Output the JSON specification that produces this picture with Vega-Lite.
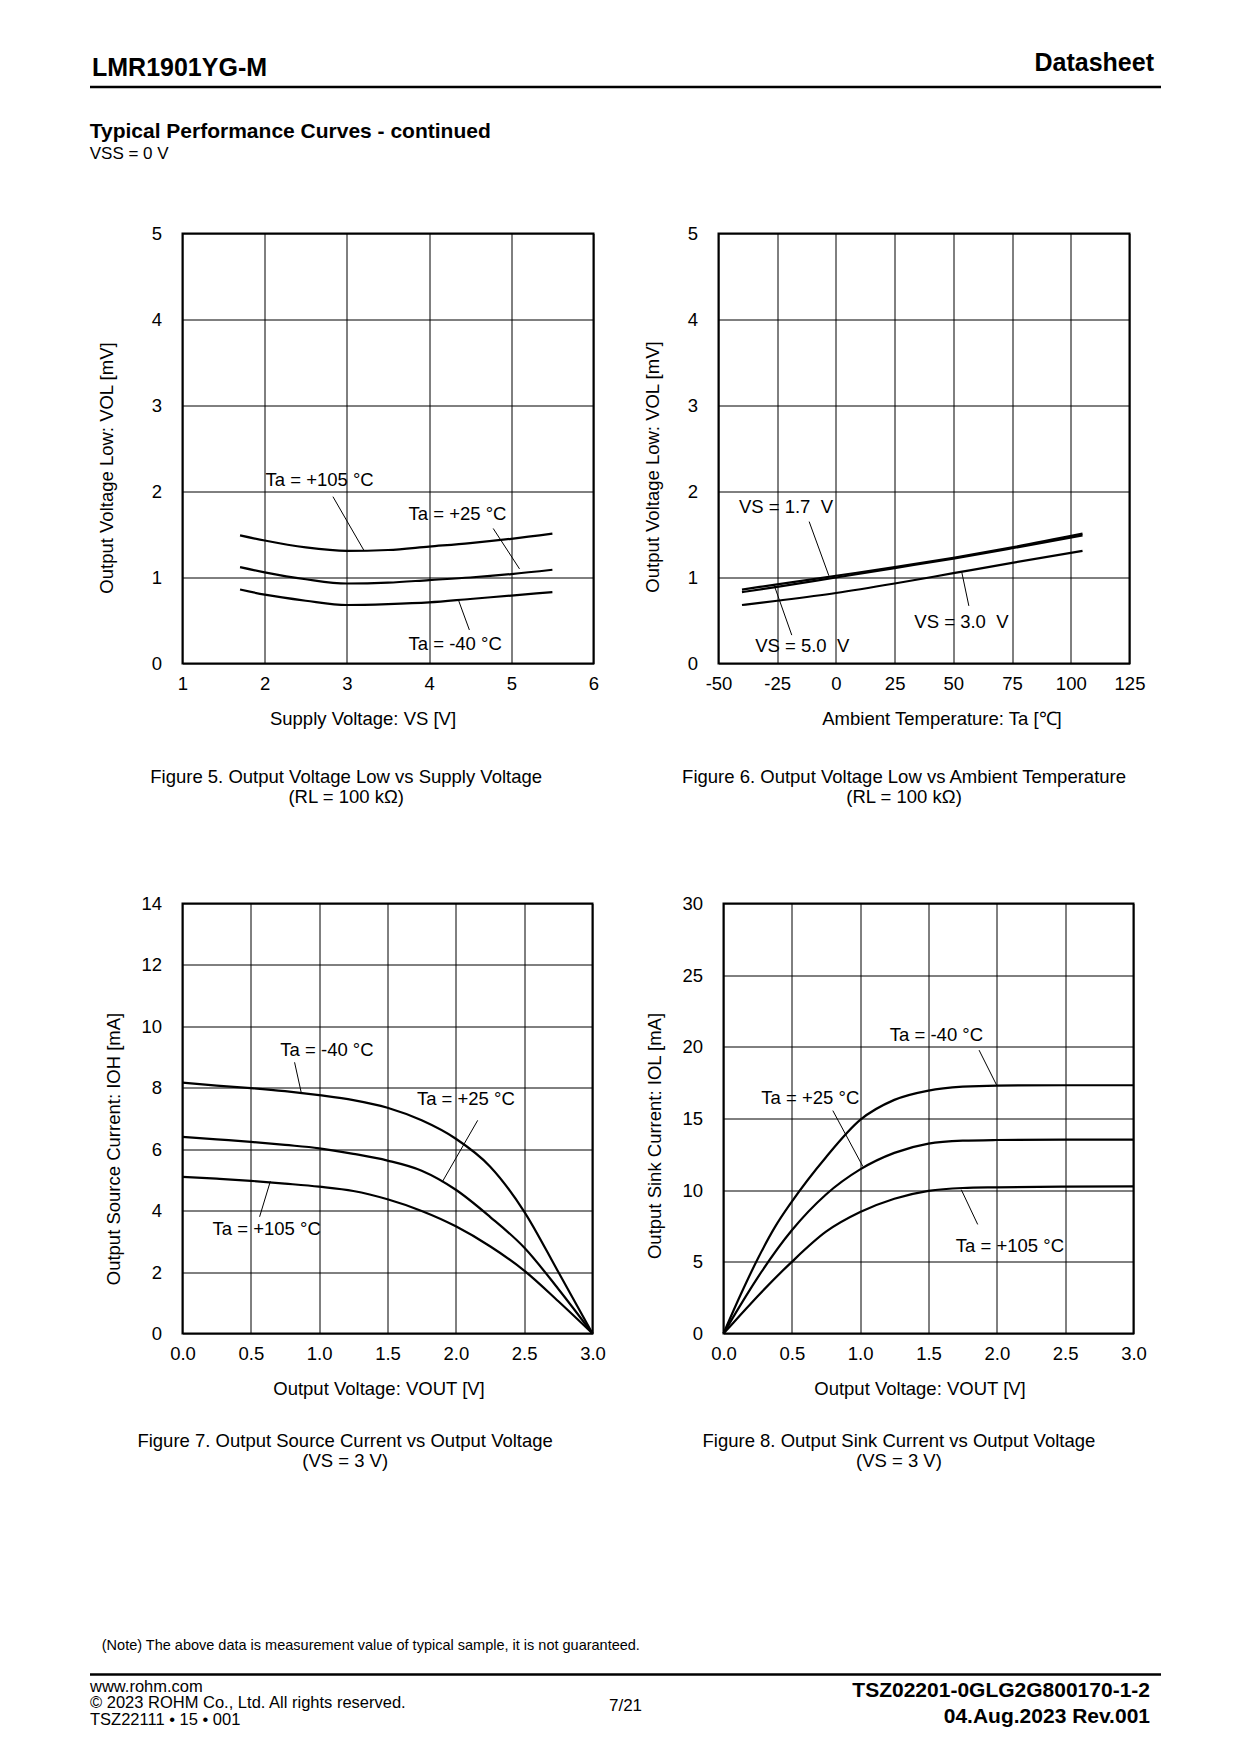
{
  "$schema": "https://vega.github.io/schema/vega-lite/v6.json",
  "background": "white",
  "padding": {"left": 86.5, "top": 50.5, "right": 0, "bottom": 0},
  "config": {
    "font": "Liberation Sans",
    "view": {"stroke": null},
    "axis": {"labelFont": "Liberation Sans", "labelFontSize": 18.5, "labelColor": "black", "titleFont": "Liberation Sans", "titleFontSize": 18.5, "titleFontWeight": "normal", "titleColor": "black", "gridColor": "black", "gridWidth": 1, "gridOpacity": 1, "ticks": false, "domain": false, "labelFlush": false, "labelOverlap": false, "labelBound": false, "labelLimit": 0},
    "axisX": {"labelPadding": 11, "titlePadding": 16},
    "axisY": {"labelPadding": 21},
    "title": {"font": "Liberation Sans", "color": "black", "subtitleFont": "Liberation Sans", "subtitleColor": "black", "fontWeight": "normal"}
  },
  "datasets": {
    "f5c": [
      {"s": "105", "x": 1.7, "y": 1.49}, {"s": "105", "x": 2.0, "y": 1.43}, {"s": "105", "x": 2.5, "y": 1.35}, {"s": "105", "x": 3.0, "y": 1.31}, {"s": "105", "x": 3.5, "y": 1.32}, {"s": "105", "x": 4.0, "y": 1.36}, {"s": "105", "x": 4.5, "y": 1.40}, {"s": "105", "x": 5.0, "y": 1.45}, {"s": "105", "x": 5.5, "y": 1.51},
      {"s": "25", "x": 1.7, "y": 1.12}, {"s": "25", "x": 2.0, "y": 1.06}, {"s": "25", "x": 2.5, "y": 0.98}, {"s": "25", "x": 3.0, "y": 0.93}, {"s": "25", "x": 3.5, "y": 0.94}, {"s": "25", "x": 4.0, "y": 0.97}, {"s": "25", "x": 4.5, "y": 1.00}, {"s": "25", "x": 5.0, "y": 1.04}, {"s": "25", "x": 5.5, "y": 1.09},
      {"s": "-40", "x": 1.7, "y": 0.86}, {"s": "-40", "x": 2.0, "y": 0.80}, {"s": "-40", "x": 2.5, "y": 0.73}, {"s": "-40", "x": 3.0, "y": 0.68}, {"s": "-40", "x": 3.5, "y": 0.69}, {"s": "-40", "x": 4.0, "y": 0.71}, {"s": "-40", "x": 4.5, "y": 0.75}, {"s": "-40", "x": 5.0, "y": 0.79}, {"s": "-40", "x": 5.5, "y": 0.83}
    ],
    "f5l": [
      {"x": 2.83, "y": 1.94, "x2": 3.21, "y2": 1.31},
      {"x": 4.78, "y": 1.57, "x2": 5.10, "y2": 1.10},
      {"x": 4.49, "y": 0.39, "x2": 4.36, "y2": 0.73}
    ],
    "f5t": [
      {"t": "Ta = +105 °C", "x": 2.01, "y": 2.13},
      {"t": "Ta = +25 °C", "x": 3.75, "y": 1.74},
      {"t": "Ta = -40 °C", "x": 3.75, "y": 0.225}
    ],
    "f6c": [
      {"s": "1.7", "x": -40, "y": 0.86}, {"s": "1.7", "x": -25, "y": 0.92}, {"s": "1.7", "x": 0, "y": 1.02}, {"s": "1.7", "x": 25, "y": 1.12}, {"s": "1.7", "x": 50, "y": 1.23}, {"s": "1.7", "x": 75, "y": 1.35}, {"s": "1.7", "x": 105, "y": 1.51},
      {"s": "5.0", "x": -40, "y": 0.83}, {"s": "5.0", "x": -25, "y": 0.89}, {"s": "5.0", "x": 0, "y": 1.00}, {"s": "5.0", "x": 25, "y": 1.11}, {"s": "5.0", "x": 50, "y": 1.22}, {"s": "5.0", "x": 75, "y": 1.34}, {"s": "5.0", "x": 105, "y": 1.49},
      {"s": "3.0", "x": -40, "y": 0.68}, {"s": "3.0", "x": -25, "y": 0.73}, {"s": "3.0", "x": 0, "y": 0.82}, {"s": "3.0", "x": 25, "y": 0.93}, {"s": "3.0", "x": 50, "y": 1.05}, {"s": "3.0", "x": 75, "y": 1.17}, {"s": "3.0", "x": 105, "y": 1.31}
    ],
    "f6l": [
      {"x": -11.4, "y": 1.65, "x2": -3.0, "y2": 1.02},
      {"x": -18.8, "y": 0.33, "x2": -26.3, "y2": 0.91},
      {"x": 56.6, "y": 0.67, "x2": 53.6, "y2": 1.06}
    ],
    "f6t": [
      {"t": "VS = 1.7\u00a0\u00a0V", "x": -41.3, "y": 1.82},
      {"t": "VS = 5.0\u00a0\u00a0V", "x": -34.4, "y": 0.2},
      {"t": "VS = 3.0\u00a0\u00a0V", "x": 33.4, "y": 0.48}
    ],
    "f7c": [
      {"s": "-40", "x": 0, "y": 8.17}, {"s": "-40", "x": 0.25, "y": 8.07}, {"s": "-40", "x": 0.5, "y": 7.99}, {"s": "-40", "x": 0.75, "y": 7.89}, {"s": "-40", "x": 1.0, "y": 7.76}, {"s": "-40", "x": 1.25, "y": 7.6}, {"s": "-40", "x": 1.5, "y": 7.35}, {"s": "-40", "x": 1.75, "y": 6.94}, {"s": "-40", "x": 2.0, "y": 6.34}, {"s": "-40", "x": 2.25, "y": 5.44}, {"s": "-40", "x": 2.5, "y": 3.97}, {"s": "-40", "x": 2.75, "y": 2.0}, {"s": "-40", "x": 3.0, "y": 0},
      {"s": "25", "x": 0, "y": 6.4}, {"s": "25", "x": 0.25, "y": 6.32}, {"s": "25", "x": 0.5, "y": 6.24}, {"s": "25", "x": 0.75, "y": 6.14}, {"s": "25", "x": 1.0, "y": 6.03}, {"s": "25", "x": 1.25, "y": 5.85}, {"s": "25", "x": 1.5, "y": 5.63}, {"s": "25", "x": 1.75, "y": 5.3}, {"s": "25", "x": 2.0, "y": 4.68}, {"s": "25", "x": 2.25, "y": 3.8}, {"s": "25", "x": 2.5, "y": 2.8}, {"s": "25", "x": 2.75, "y": 1.45}, {"s": "25", "x": 3.0, "y": 0},
      {"s": "105", "x": 0, "y": 5.1}, {"s": "105", "x": 0.25, "y": 5.04}, {"s": "105", "x": 0.5, "y": 4.97}, {"s": "105", "x": 0.75, "y": 4.88}, {"s": "105", "x": 1.0, "y": 4.78}, {"s": "105", "x": 1.25, "y": 4.64}, {"s": "105", "x": 1.5, "y": 4.37}, {"s": "105", "x": 1.75, "y": 3.99}, {"s": "105", "x": 2.0, "y": 3.49}, {"s": "105", "x": 2.25, "y": 2.84}, {"s": "105", "x": 2.5, "y": 2.05}, {"s": "105", "x": 2.75, "y": 1.05}, {"s": "105", "x": 3.0, "y": 0}
    ],
    "f7l": [
      {"x": 0.82, "y": 8.83, "x2": 0.87, "y2": 7.82},
      {"x": 2.16, "y": 6.94, "x2": 1.9, "y2": 4.93},
      {"x": 0.564, "y": 3.8, "x2": 0.643, "y2": 4.96}
    ],
    "f7t": [
      {"t": "Ta = -40 °C", "x": 0.716, "y": 9.23},
      {"t": "Ta = +25 °C", "x": 1.715, "y": 7.63},
      {"t": "Ta = +105 °C", "x": 0.22, "y": 3.39}
    ],
    "f8c": [
      {"s": "-40", "x": 0, "y": 0}, {"s": "-40", "x": 0.125, "y": 2.7}, {"s": "-40", "x": 0.25, "y": 5.2}, {"s": "-40", "x": 0.375, "y": 7.4}, {"s": "-40", "x": 0.5, "y": 9.2}, {"s": "-40", "x": 0.75, "y": 12.3}, {"s": "-40", "x": 1.0, "y": 14.9}, {"s": "-40", "x": 1.25, "y": 16.3}, {"s": "-40", "x": 1.5, "y": 16.95}, {"s": "-40", "x": 1.75, "y": 17.22}, {"s": "-40", "x": 2.0, "y": 17.3}, {"s": "-40", "x": 2.5, "y": 17.32}, {"s": "-40", "x": 3.0, "y": 17.32},
      {"s": "25", "x": 0, "y": 0}, {"s": "25", "x": 0.125, "y": 2.0}, {"s": "25", "x": 0.25, "y": 3.9}, {"s": "25", "x": 0.5, "y": 7.2}, {"s": "25", "x": 0.75, "y": 9.7}, {"s": "25", "x": 1.0, "y": 11.45}, {"s": "25", "x": 1.25, "y": 12.6}, {"s": "25", "x": 1.5, "y": 13.25}, {"s": "25", "x": 1.75, "y": 13.45}, {"s": "25", "x": 2.0, "y": 13.5}, {"s": "25", "x": 2.5, "y": 13.53}, {"s": "25", "x": 3.0, "y": 13.53},
      {"s": "105", "x": 0, "y": 0}, {"s": "105", "x": 0.125, "y": 1.3}, {"s": "105", "x": 0.25, "y": 2.6}, {"s": "105", "x": 0.5, "y": 5.0}, {"s": "105", "x": 0.75, "y": 7.1}, {"s": "105", "x": 1.0, "y": 8.47}, {"s": "105", "x": 1.25, "y": 9.4}, {"s": "105", "x": 1.5, "y": 9.95}, {"s": "105", "x": 1.75, "y": 10.15}, {"s": "105", "x": 2.0, "y": 10.2}, {"s": "105", "x": 2.5, "y": 10.25}, {"s": "105", "x": 3.0, "y": 10.27}
    ],
    "f8l": [
      {"x": 1.87, "y": 19.77, "x2": 2.0, "y2": 17.3},
      {"x": 0.8, "y": 15.55, "x2": 1.02, "y2": 11.65},
      {"x": 1.86, "y": 7.61, "x2": 1.74, "y2": 10.03}
    ],
    "f8t": [
      {"t": "Ta = -40 °C", "x": 1.217, "y": 20.8},
      {"t": "Ta = +25 °C", "x": 0.277, "y": 16.41},
      {"t": "Ta = +105 °C", "x": 1.7, "y": 6.13}
    ]
  },
  "columns": 1,
  "spacing": 30,
  "concat": [
    {
      "width": 978,
      "height": 1,
      "data": {"values": [{"h": "LMR1901YG-M"}, {"h": "Datasheet"}]},
      "mark": {"type": "point", "opacity": 0},
      "encoding": {
        "x": {"field": "h", "type": "nominal", "scale": {"type": "point", "padding": 0, "domain": ["LMR1901YG-M", "Datasheet"], "range": [-93, 978]},
          "axis": {"orient": "top", "title": null, "grid": false, "ticks": false, "domain": true, "domainColor": "black", "domainWidth": 2.5, "labelAngle": 0, "labelFontSize": 25, "labelFontWeight": "bold", "labelColor": "black", "labelBaseline": "alphabetic",
            "labelPadding": {"expr": "datum.value == 'Datasheet' ? 16 : 11"},
            "labelAlign": {"expr": "datum.value == 'Datasheet' ? 'right' : 'left'"},
            "labelOffset": {"expr": "datum.value == 'Datasheet' ? -7 : 2"}}}
      }
    },
    {
      "columns": 1,
      "spacing": 165.5,
      "concat": [
        {
          "columns": 1,
          "spacing": 86,
          "title": {"text": "Typical Performance Curves - continued", "subtitle": "VSS = 0 V", "anchor": "start", "frame": "bounds", "orient": "top", "offset": 62, "dx": -7, "fontSize": 21, "fontWeight": "bold", "subtitleFontSize": 17, "subtitlePadding": 4},
          "concat": [
            {
              "spacing": 41,
              "hconcat": [
                {
                  "width": 411, "height": 430,
                  "view": {"stroke": "black", "strokeWidth": 2},
                  "title": {"text": "Figure 5. Output Voltage Low vs Supply Voltage", "subtitle": "(RL = 100 kΩ)", "orient": "bottom", "anchor": "middle", "frame": "bounds", "offset": 40, "dx": -2, "fontSize": 18.5, "subtitleFontSize": 18.5, "subtitlePadding": 2},
                  "encoding": {
                    "x": {"field": "x", "type": "quantitative", "scale": {"domain": [1, 6], "nice": false, "zero": false}, "axis": {"values": [1, 2, 3, 4, 5, 6], "title": "Supply Voltage: VS [V]", "titleX": 180}},
                    "y": {"field": "y", "type": "quantitative", "scale": {"domain": [0, 5], "nice": false}, "axis": {"values": [0, 1, 2, 3, 4, 5], "title": "Output Voltage Low: VOL [mV]", "titlePadding": 34.5, "titleY": 234}}
                  },
                  "layer": [
                    {"data": {"name": "f5c"}, "mark": {"type": "line", "color": "black", "strokeWidth": 2.2, "interpolate": "monotone"}, "encoding": {"detail": {"field": "s", "type": "nominal"}}},
                    {"data": {"name": "f5l"}, "mark": {"type": "rule", "color": "black", "strokeWidth": 1}, "encoding": {"x2": {"field": "x2"}, "y2": {"field": "y2"}}},
                    {"data": {"name": "f5t"}, "mark": {"type": "text", "align": "left", "baseline": "middle", "fontSize": 18.5, "color": "black"}, "encoding": {"text": {"field": "t", "type": "nominal"}}}
                  ]
                },
                {
                  "width": 411, "height": 430,
                  "view": {"stroke": "black", "strokeWidth": 2},
                  "title": {"text": "Figure 6. Output Voltage Low vs Ambient Temperature", "subtitle": "(RL = 100 kΩ)", "orient": "bottom", "anchor": "middle", "frame": "bounds", "offset": 40, "dx": 10, "fontSize": 18.5, "subtitleFontSize": 18.5, "subtitlePadding": 2},
                  "encoding": {
                    "x": {"field": "x", "type": "quantitative", "scale": {"domain": [-50, 125], "nice": false, "zero": false}, "axis": {"values": [-50, -25, 0, 25, 50, 75, 100, 125], "labelExpr": "datum.value + ''", "title": "Ambient Temperature: Ta [℃]", "titleX": 223}},
                    "y": {"field": "y", "type": "quantitative", "scale": {"domain": [0, 5], "nice": false}, "axis": {"values": [0, 1, 2, 3, 4, 5], "title": "Output Voltage Low: VOL [mV]", "titlePadding": 25, "titleY": 233}}
                  },
                  "layer": [
                    {"data": {"name": "f6c"}, "mark": {"type": "line", "color": "black", "strokeWidth": 2.2, "interpolate": "monotone"}, "encoding": {"detail": {"field": "s", "type": "nominal"}}},
                    {"data": {"name": "f6l"}, "mark": {"type": "rule", "color": "black", "strokeWidth": 1}, "encoding": {"x2": {"field": "x2"}, "y2": {"field": "y2"}}},
                    {"data": {"name": "f6t"}, "mark": {"type": "text", "align": "left", "baseline": "middle", "fontSize": 18.5, "color": "black"}, "encoding": {"text": {"field": "t", "type": "nominal"}}}
                  ]
                }
              ]
            },
            {
              "spacing": 37,
              "hconcat": [
                {
                  "width": 410, "height": 430,
                  "view": {"stroke": "black", "strokeWidth": 2},
                  "title": {"text": "Figure 7. Output Source Current vs Output Voltage", "subtitle": "(VS = 3 V)", "orient": "bottom", "anchor": "middle", "frame": "bounds", "offset": 34, "dx": -10, "fontSize": 18.5, "subtitleFontSize": 18.5, "subtitlePadding": 2},
                  "encoding": {
                    "x": {"field": "x", "type": "quantitative", "scale": {"domain": [0, 3], "nice": false}, "axis": {"values": [0, 0.5, 1, 1.5, 2, 2.5, 3], "format": ".1f", "title": "Output Voltage: VOUT [V]", "titleX": 196}},
                    "y": {"field": "y", "type": "quantitative", "scale": {"domain": [0, 14], "nice": false}, "axis": {"values": [0, 2, 4, 6, 8, 10, 12, 14], "title": "Output Source Current: IOH [mA]", "titlePadding": 17, "titleY": 245}}
                  },
                  "layer": [
                    {"data": {"name": "f7c"}, "mark": {"type": "line", "color": "black", "strokeWidth": 2.2, "interpolate": "monotone"}, "encoding": {"detail": {"field": "s", "type": "nominal"}}},
                    {"data": {"name": "f7l"}, "mark": {"type": "rule", "color": "black", "strokeWidth": 1}, "encoding": {"x2": {"field": "x2"}, "y2": {"field": "y2"}}},
                    {"data": {"name": "f7t"}, "mark": {"type": "text", "align": "left", "baseline": "middle", "fontSize": 18.5, "color": "black"}, "encoding": {"text": {"field": "t", "type": "nominal"}}}
                  ]
                },
                {
                  "width": 410, "height": 430,
                  "view": {"stroke": "black", "strokeWidth": 2},
                  "title": {"text": "Figure 8. Output Sink Current vs Output Voltage", "subtitle": "(VS = 3 V)", "orient": "bottom", "anchor": "middle", "frame": "bounds", "offset": 34, "dx": 3, "fontSize": 18.5, "subtitleFontSize": 18.5, "subtitlePadding": 2},
                  "encoding": {
                    "x": {"field": "x", "type": "quantitative", "scale": {"domain": [0, 3], "nice": false}, "axis": {"values": [0, 0.5, 1, 1.5, 2, 2.5, 3], "format": ".1f", "title": "Output Voltage: VOUT [V]", "titleX": 196}},
                    "y": {"field": "y", "type": "quantitative", "scale": {"domain": [0, 30], "nice": false}, "axis": {"values": [0, 5, 10, 15, 20, 25, 30], "title": "Output Sink Current: IOL [mA]", "titlePadding": 17.5, "titleY": 232}}
                  },
                  "layer": [
                    {"data": {"name": "f8c"}, "mark": {"type": "line", "color": "black", "strokeWidth": 2.2, "interpolate": "monotone"}, "encoding": {"detail": {"field": "s", "type": "nominal"}}},
                    {"data": {"name": "f8l"}, "mark": {"type": "rule", "color": "black", "strokeWidth": 1}, "encoding": {"x2": {"field": "x2"}, "y2": {"field": "y2"}}},
                    {"data": {"name": "f8t"}, "mark": {"type": "text", "align": "left", "baseline": "middle", "fontSize": 18.5, "color": "black"}, "encoding": {"text": {"field": "t", "type": "nominal"}}}
                  ]
                }
              ]
            }
          ]
        },
        {
          "width": 978,
          "height": 1,
          "title": {"text": "(Note) The above data is measurement value of typical sample, it is not guaranteed.", "anchor": "start", "frame": "bounds", "orient": "top", "offset": 17.5, "dx": 15, "fontSize": 14.5, "fontWeight": "normal"},
          "data": {"values": [{"f": "L"}, {"f": "C"}, {"f": "R"}]},
          "mark": {"type": "point", "opacity": 0},
          "encoding": {
            "x": {"field": "f", "type": "nominal", "scale": {"type": "point", "padding": 0, "domain": ["L", "C", "R"], "range": [-93, 978]},
              "axis": {"orient": "bottom", "title": null, "grid": false, "ticks": false, "domain": true, "domainColor": "black", "domainWidth": 2.5, "labelAngle": 0, "labelColor": "black", "labelBaseline": "top", "labelLimit": 0,
                "labelExpr": "datum.value == 'L' ? ['www.rohm.com', '© 2023 ROHM Co., Ltd. All rights reserved.', 'TSZ22111 • 15 • 001'] : datum.value == 'C' ? '7/21' : ['TSZ02201-0GLG2G800170-1-2', '04.Aug.2023 Rev.001']",
                "labelLineHeight": {"expr": "datum.value == 'R' ? 26 : 16.5"},
                "labelPadding": {"expr": "datum.value == 'C' ? 23 : datum.value == 'R' ? 5 : 4"},
                "labelAlign": {"expr": "datum.value == 'L' ? 'left' : datum.value == 'C' ? 'center' : 'right'"},
                "labelFontSize": {"expr": "datum.value == 'L' ? 16.5 : datum.value == 'C' ? 17 : 21"},
                "labelFontWeight": {"expr": "datum.value == 'R' ? 'bold' : 'normal'"},
                "labelOffset": {"expr": "datum.value == 'R' ? -11 : 0"}}}
          }
        }
      ]
    }
  ]
}
